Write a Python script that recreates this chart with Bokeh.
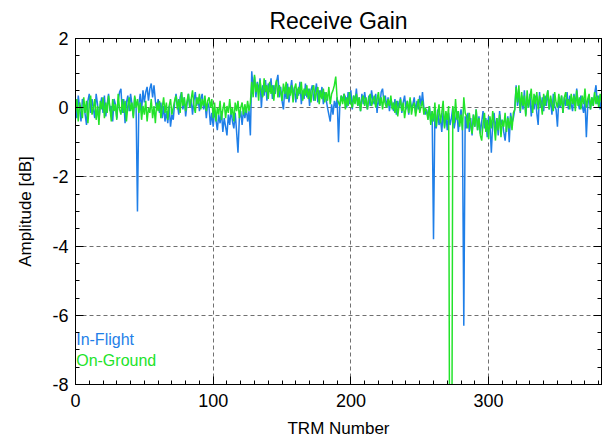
from bokeh.plotting import figure
from bokeh.models import LinearAxis, SingleIntervalTicker, Label, Range1d, CustomJSTickFormatter
from bokeh.embed import file_html
from bokeh.resources import INLINE

trm = list(range(383))

in_flight = [
    # 0-44
    0.15, -0.3, 0.35, 0.0, -0.4, 0.25, 0.1, -0.2, -0.5, 0.2,
    0.4, -0.15, 0.25, -0.05, -0.3, 0.4, 0.1, -0.35, 0.05, 0.3,
    -0.15, 0.35, -0.25, 0.1, 0.4, -0.1, 0.05, -0.4, 0.25, 0.1,
    -0.3, 0.2, 0.45, 0.55, -0.15, 0.25, -0.45, 0.15, 0.35, -0.1,
    0.4, 0.1, -0.25, 0.3, 0.05,
    # 45
    -3.0,
    # 46-60
    0.1, 0.4, -0.1, 0.5, 0.15, 0.45, 0.6, 0.2, 0.55, 0.7, 0.3, 0.65, 0.2, -0.05, 0.25,
    # 61-72
    -0.15, 0.15, -0.3, 0.05, -0.4, -0.1, -0.45, 0.05, -0.55, -0.2, -0.35, 0.15,
    # 73-97
    0.4, 0.1, -0.2, 0.3, 0.45, -0.05, 0.3, -0.25, 0.1, 0.4,
    0.0, 0.25, -0.2, 0.2, 0.45, 0.05, 0.3, -0.1, 0.25, 0.4,
    -0.05, 0.2, -0.3, 0.15, 0.0,
    # 98-127
    -0.5, -0.15, -0.55, -0.05, -0.35, -0.65, -0.2, -0.45, -0.1, -0.7,
    -0.3, -0.55, -0.8, -0.2, -0.5, -0.05, -0.4, -0.6, -0.15, -0.7,
    -1.3, -0.3, -0.1, -0.5, -0.05, -0.3, 0.0, -0.4, -0.1, -0.8,
    # 128-150
    1.05, 0.55, 0.9, 0.3, 0.75, 0.45, 0.85, 0.0, 0.65, 0.35,
    0.8, 0.2, 0.7, 0.45, 0.85, 0.25, 0.65, 0.4, 0.75, 0.95,
    0.3, 0.6, 0.2,
    # 151
    -0.05,
    # 152-183
    0.55, 0.25, 0.7, 0.15, 0.5, 0.8, 0.3, 0.6, 0.15, 0.55,
    0.35, 0.75, 0.1, 0.5, 0.25, 0.7, 0.3, 0.55, 0.05, 0.5,
    0.65, 0.2, 0.45, 0.7, 0.15, 0.5, 0.3, 0.6, 0.1, 0.45,
    0.25, 0.0,
    # 184-195
    -0.2, -0.4, 0.1, -0.2, 0.2, 0.0, 0.3, -1.0, 0.1, 0.35, 0.2, 0.4,
    # 196-230
    0.3, 0.0, 0.45, 0.1, 0.5, -0.05, 0.35, 0.15, 0.55, 0.05,
    0.3, -0.1, 0.4, 0.1, 0.45, 0.15, -0.05, 0.35, 0.05, 0.5,
    0.2, 0.1, 0.4, -0.15, 0.3, 0.05, 0.45, 0.55, 0.15, 0.35,
    0.0, 0.3, -0.1, 0.25, 0.1,
    # 231-255
    -0.1, 0.25, -0.2, 0.2, 0.0, 0.3, -0.15, 0.15, 0.35, -0.05,
    0.2, -0.2, 0.25, 0.0, 0.1, 0.3, -0.15, 0.2, -0.05, 0.35,
    0.05, 0.45, 0.0, -0.2, -0.05,
    # 256-259
    -0.3, 0.05, -0.4, -0.1,
    # 260
    -3.8,
    # 261-281
    -0.15, -0.6, -0.05, -0.5, -0.3, -0.7, -0.1, -0.55, -0.2, -0.65,
    -0.15, -0.5, -0.3, 0.0, -0.6, -0.35, -0.1, -0.7, -0.3, -0.05,
    -0.5,
    # 282
    -6.3,
    # 283-301
    -0.25, -0.6, -0.15, -0.7, -0.3, -0.8, -0.2, -0.55, -0.05, -0.65,
    -0.25, -0.75, -0.4, -0.1, -0.6, -0.3, -0.85, -0.25, -0.5,
    # 302
    -1.3,
    # 303-319
    -0.45, -0.15, -0.65, -0.3, -0.8, -0.1, -0.5, -0.35, -0.7, -0.95,
    -0.5, -0.25, -1.0, -0.15, -0.45, -0.3, -0.05,
    # 320-382
    0.65, 0.05, 0.45, -0.15, 0.35, -0.05, 0.5, -0.2, 0.25, 0.0,
    0.4, -0.25, 0.2, -0.05, 0.35, -0.15, -0.5, 0.45, 0.0, 0.3,
    -0.1, 0.35, 0.05, 0.5, -0.05, 0.25, -0.2, 0.4, 0.05, -0.05,
    -0.55, 0.25, 0.0, 0.35, -0.15, 0.3, 0.05, 0.45, -0.05, 0.35,
    0.1, -0.1, 0.4, 0.05, 0.55, 0.15, -0.05, 0.35, 0.05, -0.15,
    0.25, -0.85, 0.05, 0.35, -0.05, 0.3, 0.05, 0.4, 0.65, 0.1,
    0.35, -0.05, 0.25,
]

on_ground = [
    # 0-44
    -0.15, 0.25, -0.4, 0.15, -0.05, -0.3, 0.3, -0.15, 0.2, -0.45,
    0.1, 0.35, -0.2, 0.0, 0.25, -0.35, 0.05, -0.5, 0.2, -0.05,
    0.3, -0.3, 0.15, -0.15, 0.35, 0.0, -0.4, 0.25, -0.1, 0.1,
    -0.35, 0.4, -0.05, -0.2, 0.25, -0.15, 0.2, -0.4, 0.05, 0.3,
    -0.1, 0.15, -0.3, 0.35, 0.0,
    # 45-72
    0.25, -0.15, 0.15, -0.35, 0.05, -0.2, 0.2, -0.4, 0.0, -0.15,
    0.25, -0.3, 0.05, -0.45, 0.15, -0.1, 0.2, -0.3, 0.0, 0.3,
    -0.15, 0.15, -0.35, 0.05, 0.25, -0.2, 0.0, 0.2,
    # 73-99
    0.35, -0.05, 0.25, -0.15, 0.45, 0.05, 0.3, -0.1, 0.2, 0.4,
    0.0, 0.25, 0.5, 0.05, -0.15, 0.3, 0.1, 0.4, -0.05, 0.25,
    0.05, 0.35, -0.1, 0.2, 0.3, 0.0, 0.25,
    # 100-127
    -0.3, 0.15, -0.4, 0.0, -0.2, 0.2, -0.35, -0.05, 0.15, -0.3,
    0.05, -0.15, 0.25, -0.2, 0.0, -0.4, 0.15, -0.1, 0.2, -0.3,
    0.0, 0.15, -0.2, 0.1, -0.15, 0.2, -0.1, 0.15,
    # 128-191
    0.75, 0.3, 0.95, 0.45, 0.7, 0.2, 0.8, 0.5, 0.3, 0.85,
    0.45, 0.65, 0.25, 0.75, 0.4, 0.65, 0.2, 0.6, 0.8, 0.3,
    0.65, 0.45, 0.2, 0.7, 0.4, 0.75, 0.25, 0.6, 0.35, 0.65,
    0.15, 0.55, 0.7, 0.25, 0.6, 0.4, 0.75, 0.2, 0.55, 0.35,
    0.65, 0.25, 0.55, 0.15, 0.5, 0.65, 0.2, 0.45, 0.6, 0.1,
    0.5, 0.25, 0.55, 0.15, 0.45, 0.2, 0.6, 0.1, 0.4, 0.5,
    0.65, 0.9, 0.25, 0.15,
    # 192-230
    0.05, 0.35, 0.1, 0.4, -0.05, 0.3, 0.05, 0.45, 0.15, 0.0,
    0.35, 0.1, 0.4, 0.05, 0.3, -0.1, 0.25, 0.35, 0.05, 0.3,
    -0.05, 0.25, 0.4, 0.05, 0.2, 0.35, 0.0, 0.25, 0.45, 0.05,
    0.3, -0.05, 0.35, 0.1, 0.0, 0.25, 0.05, 0.35, -0.05,
    # 231-255
    0.15, -0.15, 0.2, -0.25, 0.05, 0.25, -0.1, 0.15, -0.3, 0.0,
    0.2, -0.15, 0.3, -0.2, 0.05, 0.15, -0.25, 0.0, 0.25, -0.15,
    0.05, 0.2, -0.2, 0.0, -0.1,
    # 256-271
    -0.35, 0.05, -0.5, -0.1, -0.4, 0.15, -0.55, -0.2, 0.1, -0.45,
    -0.15, 0.2, -0.6, -0.1, -0.35, 0.05,
    # 272-273
    -15.0, -15.0,
    # 274-283
    0.05, -0.45, 0.25, -0.35, -0.1, -0.55, -0.2, -0.65, 0.3, -0.15,
    # 284-319
    -0.25, -0.6, -0.15, -0.5, -0.75, -0.2, -0.55, -0.05, -0.65, -0.3,
    -0.8, -0.95, -0.45, -0.15, -0.7, -0.35, -0.9, -0.25, -0.6, -0.1,
    -0.5, -0.95, -0.3, -0.65, -0.2, -0.85, -0.35, -0.55, -0.15, -0.7,
    -0.3, -0.6, -0.25, -0.65, -0.15, -0.05,
    # 320-382
    0.6, 0.15, 0.65, -0.1, 0.45, 0.05, 0.35, -0.25, 0.5, 0.0,
    0.3, 0.55, -0.15, 0.4, 0.1, 0.45, -0.05, 0.35, 0.15, -0.2,
    0.4, 0.05, 0.3, 0.5, -0.05, 0.35, 0.1, -0.1, 0.45, 0.15,
    0.0, 0.4, 0.05, 0.35, -0.15, 0.3, 0.45, 0.05, 0.25, -0.05,
    0.4, 0.1, 0.35, -0.1, 0.5, 0.05, 0.3, -0.05, 0.35, 0.1,
    0.55, 0.0, 0.25, 0.4, -0.05, 0.3, 0.05, 0.45, 0.1, 0.35,
    0.0, 0.4, 0.15,
]

assert len(in_flight) == 383, len(in_flight)
assert len(on_ground) == 383, len(on_ground)

series_names = ["In-Flight", "On-Ground"]
BLUE = "#1f7fe8"
GREEN = "#22e32a"
FONT = "Liberation Sans"

p = figure(width=603, height=440, x_range=Range1d(0, 382), y_range=Range1d(-8, 2),
           output_backend="svg", toolbar_location=None,
           min_border_left=75, min_border_right=2, min_border_top=36, min_border_bottom=54,
           title="Receive Gain", x_axis_label="TRM Number", y_axis_label="Amplitude [dB]")
p.title.align = "center"
p.title.text_font = FONT
p.title.text_font_size = "23px"
p.title.text_font_style = "normal"
p.title.text_color = "black"
p.outline_line_color = "black"
p.outline_line_alpha = 1.0

xt = SingleIntervalTicker(interval=100, num_minor_ticks=10)
yt = SingleIntervalTicker(interval=2, num_minor_ticks=4)
hyphen_fmt = CustomJSTickFormatter(code="return String(tick);")
blank_fmt = CustomJSTickFormatter(code="return '';")

for ax in p.xaxis:
    ax.ticker = xt
for ax in p.yaxis:
    ax.ticker = yt

def style_axis(ax):
    ax.axis_line_color = "black"
    ax.major_tick_line_color = "black"
    ax.minor_tick_line_color = "black"
    ax.major_tick_in = 8
    ax.major_tick_out = 0
    ax.minor_tick_in = 4
    ax.minor_tick_out = 0
    ax.major_label_text_font = FONT
    ax.major_label_text_font_size = "18px"
    ax.major_label_text_color = "black"
    ax.axis_label_text_font = FONT
    ax.axis_label_text_font_size = "17px"
    ax.axis_label_text_font_style = "normal"
    ax.axis_label_text_color = "black"

for ax in p.xaxis:
    style_axis(ax)
    ax.formatter = hyphen_fmt
    ax.major_label_standoff = 9
    ax.axis_label_standoff = 9
for ax in p.yaxis:
    style_axis(ax)
    ax.formatter = hyphen_fmt
    ax.major_label_standoff = 7
    ax.axis_label_standoff = 14

top = LinearAxis(ticker=xt, formatter=blank_fmt)
right = LinearAxis(ticker=yt, formatter=blank_fmt)
for ax in (top, right):
    style_axis(ax)
    ax.major_label_standoff = 0
p.add_layout(top, "above")
p.add_layout(right, "right")

p.xgrid.ticker = xt
p.ygrid.ticker = yt
for g in (p.xgrid, p.ygrid):
    g.grid_line_color = "#707070"
    g.grid_line_dash = "4 3"
    g.grid_line_width = 1

p.line(trm, in_flight, color=BLUE, line_width=1.5)
p.line(trm, on_ground, color=GREEN, line_width=1.5)

p.add_layout(Label(x=0.5, y=-6.71, text=series_names[0], text_color=BLUE, text_font=FONT,
                   text_font_size="16px", text_baseline="middle"))
p.add_layout(Label(x=0.5, y=-7.31, text=series_names[1], text_color=GREEN, text_font=FONT,
                   text_font_size="16px", text_baseline="middle"))

open("out.html", "w").write(file_html(p, INLINE))
